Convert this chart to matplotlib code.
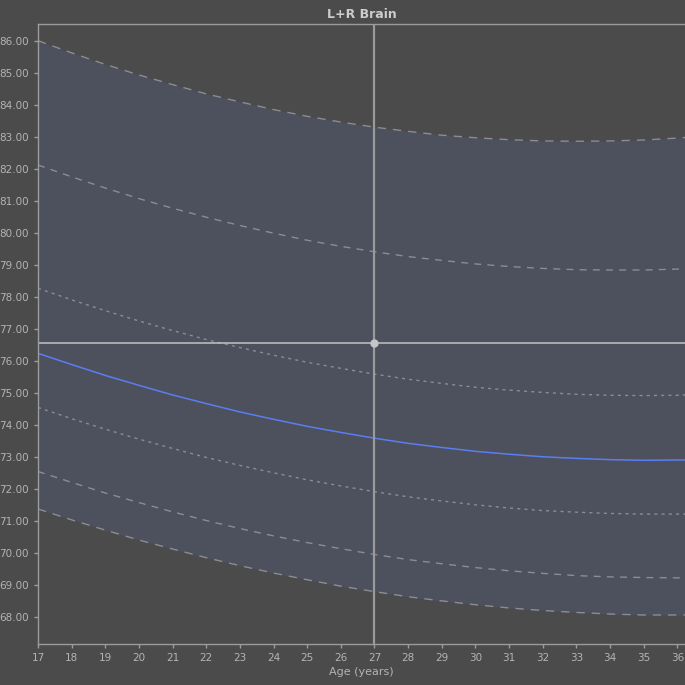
import matplotlib
matplotlib.use("Agg")
import matplotlib.pyplot as plt
import numpy as np

# values (age in years, volume)
age = [17, 18, 19, 20, 21, 22, 23, 24, 25, 26, 27, 28, 29, 30, 31, 32, 33, 34, 35, 36, 36.25]
top = [86.00, 85.62, 85.26, 84.93, 84.63, 84.34, 84.09, 83.85, 83.64, 83.46, 83.30,
       83.17, 83.05, 82.97, 82.91, 82.87, 82.86, 82.87, 82.90, 82.96, 82.98]
upper2 = [82.12, 81.75, 81.40, 81.07, 80.77, 80.49, 80.23, 79.99, 79.77, 79.58, 79.41,
          79.26, 79.14, 79.03, 78.95, 78.89, 78.85, 78.84, 78.84, 78.87, 78.88]
upper1 = [78.27, 77.91, 77.57, 77.25, 76.95, 76.67, 76.42, 76.18, 75.96, 75.77, 75.59,
          75.43, 75.30, 75.18, 75.09, 75.02, 74.96, 74.93, 74.92, 74.93, 74.94]
mean = [76.24, 75.89, 75.55, 75.24, 74.94, 74.67, 74.41, 74.18, 73.96, 73.77, 73.59,
        73.43, 73.30, 73.18, 73.09, 73.01, 72.96, 72.92, 72.90, 72.91, 72.91]
lower1 = [74.55, 74.20, 73.87, 73.56, 73.27, 72.99, 72.74, 72.51, 72.29, 72.10, 71.92,
          71.76, 71.63, 71.51, 71.41, 71.33, 71.28, 71.24, 71.22, 71.22, 71.22]
lower2 = [72.55, 72.21, 71.88, 71.58, 71.29, 71.02, 70.77, 70.54, 70.33, 70.14, 69.96,
          69.80, 69.67, 69.55, 69.45, 69.37, 69.30, 69.26, 69.24, 69.23, 69.23]
bottom = [71.38, 71.04, 70.72, 70.41, 70.13, 69.86, 69.61, 69.38, 69.17, 68.97, 68.80,
          68.64, 68.51, 68.39, 68.29, 68.21, 68.15, 68.10, 68.07, 68.07, 68.07]

cursor_age = 27
cursor_value = 76.55

xticks = list(range(17, 37))
yticks = [68, 69, 70, 71, 72, 73, 74, 75, 76, 77, 78, 79, 80, 81, 82, 83, 84, 85, 86]

bg = "#4b4b4b"
band = "#4d505d"
axcol = "#9c9c9c"
txt = "#b4b4b4"
grey = "#8c8c92"

fig = plt.figure(figsize=(6.85, 6.85), dpi=100, facecolor=bg)
ax = fig.add_axes([38/685, 1 - 644/685, 1 - 38/685, (644 - 24)/685])
ax.set_facecolor(bg)

ax.fill_between(age, bottom, top, color=band, lw=0)
ax.plot(age, top, color=grey, lw=1, dashes=(6, 5))
ax.plot(age, bottom, color=grey, lw=1, dashes=(6, 5))
ax.plot(age, upper2, color=grey, lw=1, dashes=(5, 4.5))
ax.plot(age, lower2, color=grey, lw=1, dashes=(5, 4.5))
ax.plot(age, upper1, color=grey, lw=1, dashes=(2.2, 3))
ax.plot(age, lower1, color=grey, lw=1, dashes=(2.2, 3))
ax.plot(age, mean, color="#5a7ef2", lw=1.1)

ax.axvline(cursor_age, color="#9a9a9a", lw=1.6)
ax.axhline(cursor_value, color="#c4c4c4", lw=1.1)
ax.plot([cursor_age], [cursor_value], "o", color="#c4c4cc", ms=6, mec="none")

ax.set_xlim(17, 17 + (685 - 38)/33.65)
ax.set_ylim(86 - (644 - 40.7)/32.03, 86 + (40.7 - 24)/32.03)
ax.set_xticks(xticks)
ax.set_yticks(yticks)
ax.set_yticklabels(["%.2f" % v for v in yticks])

for s in ["left", "bottom", "top"]:
    ax.spines[s].set_color(axcol)
    ax.spines[s].set_linewidth(1)
ax.spines["right"].set_visible(False)
ax.tick_params(colors=axcol, labelcolor=txt, labelsize=7.5, length=3, width=1)

ax.set_xlabel("Age (years)", color=txt, fontsize=8, labelpad=3)
ax.set_title("L+R Brain", color="#cccccc", fontsize=9, fontweight="bold", pad=4)

fig.savefig("out.png", dpi=100, facecolor=bg)
